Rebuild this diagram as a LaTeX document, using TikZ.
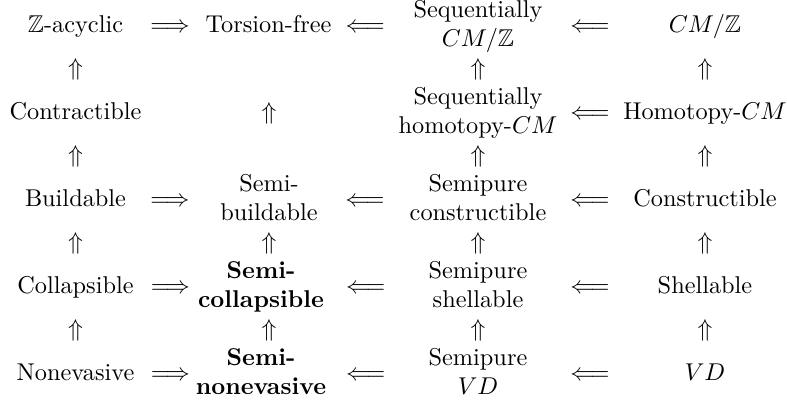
\documentclass[tikz,border=0pt]{standalone}
\usepackage{amssymb}
\begin{document}
\begin{tikzpicture}[x=0.4115pt, y=-0.4115pt,
  cell/.style={inner sep=0pt, text height=8.5pt, text depth=3.5pt},
  cellii/.style={inner sep=0pt, align=center},
  boldcell/.style={cellii, font=\bfseries},
  arr/.style={inner sep=0pt, text height=8.5pt, text depth=3.5pt}]
\useasboundingbox (0,0) rectangle (787,407);
% row 1
\node[cell]  (za)   at (75.5,26) {$\mathbb{Z}$-acyclic};
\node[cell]  (tf)   at (268.5,26) {Torsion-free};
\node[cellii](scmz) at (478,26) {\strut Sequentially\\\strut $CM/\mathbb{Z}$};
\node[cell]  (cmz)  at (705,26) {$CM/\mathbb{Z}$};
% row 2
\node[cell]  (con)  at (75.5,113) {Contractible};
\node[cellii](shcm) at (478,113) {\strut Sequentially\\\strut homotopy-$CM$};
\node[cell]  (hcm)  at (705,113) {Homotopy-$CM$};
% row 3
\node[cell]  (bu)   at (75.5,200) {Buildable};
\node[cellii](sbu)  at (269,200) {\strut Semi-\\\strut buildable};
\node[cellii](spc)  at (478,200) {\strut Semipure\\\strut constructible};
\node[cell]  (cons) at (705,200) {Constructible};
% row 4
\node[cell]  (col)  at (75.5,287) {Collapsible};
\node[boldcell](scol) at (261,287) {\strut Semi-\\\strut collapsible};
\node[cellii](sps)  at (478,287) {\strut Semipure\\\strut shellable};
\node[cell]  (sh)   at (705,287) {Shellable};
% row 5
\node[cell]  (ne)   at (75.5,374) {Nonevasive};
\node[boldcell](sne) at (261,374) {\strut Semi-\\\strut nonevasive};
\node[cellii](spvd) at (478,374) {\strut Semipure\\\strut $VD$};
\node[cell]  (vd)   at (705,374) {$VD$};
% horizontal implications
\path (za.center) -- node[arr,pos=0.49] {$\Longrightarrow$} (tf.center);
\path (tf.center) -- node[arr,pos=0.461] {$\Longleftarrow$} (scmz.center);
\path (scmz.center) -- node[arr,pos=0.493] {$\Longleftarrow$} (cmz.center);
\path (shcm.center) -- node[arr,pos=0.493] {$\Longleftarrow$} (hcm.center);
\path (bu.center) -- node[arr,pos=0.488] {$\Longrightarrow$} (sbu.center);
\path (sbu.center) -- node[arr,pos=0.459] {$\Longleftarrow$} (spc.center);
\path (spc.center) -- node[arr,pos=0.493] {$\Longleftarrow$} (cons.center);
\path (col.center) -- node[arr,pos=0.512] {$\Longrightarrow$} (scol.center);
\path (scol.center) -- node[arr,pos=0.482] {$\Longleftarrow$} (sps.center);
\path (sps.center) -- node[arr,pos=0.493] {$\Longleftarrow$} (sh.center);
\path (ne.center) -- node[arr,pos=0.512] {$\Longrightarrow$} (sne.center);
\path (sne.center) -- node[arr,pos=0.482] {$\Longleftarrow$} (spvd.center);
\path (spvd.center) -- node[arr,pos=0.493] {$\Longleftarrow$} (vd.center);
% vertical implications
\path (con.center) -- node[arr] {$\Uparrow$} (za.center);
\path (bu.center) -- node[arr] {$\Uparrow$} (con.center);
\path (col.center) -- node[arr] {$\Uparrow$} (bu.center);
\path (ne.center) -- node[arr] {$\Uparrow$} (col.center);
\path (sbu.center) -- node[arr] {$\Uparrow$} (sbu.center |- tf.center);
\path (sbu.center |- scol.center) -- node[arr] {$\Uparrow$} (sbu.center);
\path (sbu.center |- sne.center) -- node[arr] {$\Uparrow$} (sbu.center |- scol.center);
\path (shcm.center) -- node[arr] {$\Uparrow$} (scmz.center);
\path (spc.center) -- node[arr] {$\Uparrow$} (shcm.center);
\path (sps.center) -- node[arr] {$\Uparrow$} (spc.center);
\path (spvd.center) -- node[arr] {$\Uparrow$} (sps.center);
\path (hcm.center) -- node[arr] {$\Uparrow$} (cmz.center);
\path (cons.center) -- node[arr] {$\Uparrow$} (hcm.center);
\path (sh.center) -- node[arr] {$\Uparrow$} (cons.center);
\path (vd.center) -- node[arr] {$\Uparrow$} (sh.center);
\end{tikzpicture}
\end{document}
